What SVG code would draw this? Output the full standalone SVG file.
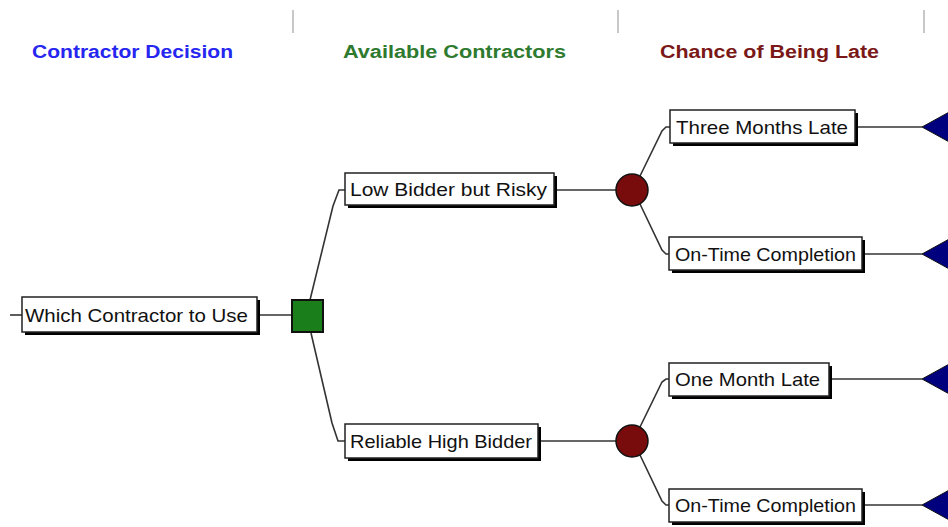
<svg xmlns="http://www.w3.org/2000/svg" width="948" height="527" viewBox="0 0 948 527">
<defs>
<style>
.hdr{font-family:"Liberation Sans",Arial,sans-serif;font-weight:bold;font-size:18px}
.sep{stroke:#c8c8c8;stroke-width:2}
.box{fill:#fff;stroke:#222;stroke-width:1.5}
.shadow{fill:#000}
.lbl{font-family:"Liberation Sans",Arial,sans-serif;font-size:19px;fill:#111}
.conn path,.conn line{stroke:#333;stroke-width:1.6;fill:none}
.chance{fill:#780c0c;stroke:#111;stroke-width:1.5}
.decision{fill:#1a7f1a;stroke:#111;stroke-width:2}
.term{fill:#00007f;stroke:#111;stroke-width:1}
</style>
</defs>
<rect width="948" height="527" fill="#fff"/>
<g id="header">
<line class="sep" x1="293" y1="10" x2="293" y2="33"/>
<line class="sep" x1="618" y1="10" x2="618" y2="33"/>
<line class="sep" x1="924" y1="10" x2="924" y2="33"/>
<text class="hdr" x="32" y="58" fill="#2626f0" textLength="201" lengthAdjust="spacingAndGlyphs">Contractor Decision</text>
<text class="hdr" x="343" y="58" fill="#2e7a2e" textLength="223" lengthAdjust="spacingAndGlyphs">Available Contractors</text>
<text class="hdr" x="660" y="58" fill="#7a1818" textLength="219" lengthAdjust="spacingAndGlyphs">Chance of Being Late</text>
</g>
<g class="conn" id="connectors">
<line x1="10" y1="315" x2="22" y2="315"/>
<line x1="259" y1="315" x2="292" y2="315"/>
<path d="M310,300 L333,206 L339,190 L345,190"/>
<path d="M311,333 L332,423 L338,441 L345,441"/>
<line x1="556" y1="190" x2="616" y2="190"/>
<line x1="540" y1="441" x2="616" y2="441"/>
<path d="M640,176 L662,131 L666,127 L670,127"/>
<path d="M640,204 L662,250 L666,254 L669,254"/>
<path d="M640,427 L662,382 L666,379 L669,379"/>
<path d="M640,455 L662,501 L666,505 L669,505"/>
<line x1="857" y1="127" x2="922" y2="127"/>
<line x1="864" y1="254" x2="922" y2="254"/>
<line x1="831" y1="379" x2="922" y2="379"/>
<line x1="864" y1="505" x2="922" y2="505"/>
</g>
<g id="n-which">
<rect class="shadow" x="25" y="300" width="235" height="35"/>
<rect class="box" x="22" y="297" width="235" height="35"/>
<text class="lbl" x="25" y="322" textLength="223" lengthAdjust="spacingAndGlyphs">Which Contractor to Use</text>
</g>
<g id="d-contractor">
<rect class="decision" x="292" y="300" width="31" height="32"/>
</g>
<g id="n-low">
<rect class="shadow" x="348" y="176" width="209" height="32"/>
<rect class="box" x="345" y="173" width="209" height="32"/>
<text class="lbl" x="350" y="196" textLength="197" lengthAdjust="spacingAndGlyphs">Low Bidder but Risky</text>
</g>
<g id="n-reliable">
<rect class="shadow" x="348" y="427" width="193" height="34"/>
<rect class="box" x="345" y="424" width="193" height="34"/>
<text class="lbl" x="350" y="448" textLength="182" lengthAdjust="spacingAndGlyphs">Reliable High Bidder</text>
</g>
<g id="c-upper">
<circle class="chance" cx="632" cy="190" r="16"/>
</g>
<g id="c-lower">
<circle class="chance" cx="632" cy="441" r="16"/>
</g>
<g id="n-three">
<rect class="shadow" x="673" y="113" width="185" height="33"/>
<rect class="box" x="670" y="110" width="185" height="33"/>
<text class="lbl" x="676" y="134" textLength="172" lengthAdjust="spacingAndGlyphs">Three Months Late</text>
</g>
<g id="n-ontime1">
<rect class="shadow" x="672" y="240" width="193" height="33"/>
<rect class="box" x="669" y="237" width="193" height="33"/>
<text class="lbl" x="675" y="261" textLength="181" lengthAdjust="spacingAndGlyphs">On-Time Completion</text>
</g>
<g id="n-onemonth">
<rect class="shadow" x="672" y="366" width="160" height="33"/>
<rect class="box" x="669" y="363" width="160" height="33"/>
<text class="lbl" x="675" y="386" textLength="145" lengthAdjust="spacingAndGlyphs">One Month Late</text>
</g>
<g id="n-ontime2">
<rect class="shadow" x="672" y="492" width="193" height="33"/>
<rect class="box" x="669" y="489" width="193" height="33"/>
<text class="lbl" x="675" y="512" textLength="181" lengthAdjust="spacingAndGlyphs">On-Time Completion</text>
</g>
<g id="t1"><polygon class="term" points="922,127 962,105 962,149"/></g>
<g id="t2"><polygon class="term" points="922,254 962,232 962,276"/></g>
<g id="t3"><polygon class="term" points="922,379 962,357 962,401"/></g>
<g id="t4"><polygon class="term" points="922,505 962,483 962,527"/></g>
</svg>
